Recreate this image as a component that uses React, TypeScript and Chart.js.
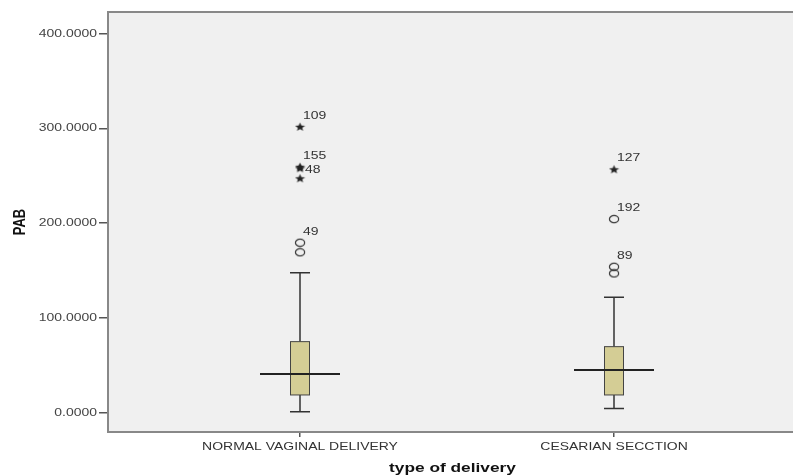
import React, { useEffect, useRef } from "react";
import { Chart, registerables } from "chart.js";
Chart.register(...registerables);

const categories = ["NORMAL VAGINAL DELIVERY", "CESARIAN SECCTION"];
const whiskerLow = [1, 4.5];
const q1 = [18.7, 18.7];
const median = [40.8, 45];
const q3 = [75, 69.7];
const whiskerHigh = [147.8, 121.8];
const extremeValues = [[301.8, 259.6, 258, 247.4], [256.9]];
const extremeLabels = [["109", "155", "48", ""], ["127"]];
const outlierValues = [[179.4, 169.3], [204.4, 154, 147]];
const outlierLabels = [["49", ""], ["192", "89", ""]];
const yTicks = [0, 100, 200, 300, 400];
const xTitle = "type of delivery";
const yTitle = "PAB";

const SX = 1.33; // horizontal stretch of the reference's text
const FONT = "'Liberation Sans', Arial, sans-serif";

function makeStar(): HTMLCanvasElement {
  const c = document.createElement("canvas");
  c.width = 11;
  c.height = 10;
  const ctx = c.getContext("2d")!;
  ctx.fillStyle = "#222";
  ctx.beginPath();
  for (let i = 0; i < 10; i++) {
    const r = i % 2 === 0 ? 4.6 : 2.0;
    const a = -Math.PI / 2 + (i * Math.PI) / 5;
    const x = 5.5 + 1.15 * r * Math.cos(a);
    const y = 5.3 + r * Math.sin(a);
    if (i === 0) ctx.moveTo(x, y);
    else ctx.lineTo(x, y);
  }
  ctx.closePath();
  ctx.fill();
  return c;
}

function makeRing(): HTMLCanvasElement {
  const c = document.createElement("canvas");
  c.width = 12;
  c.height = 10;
  const ctx = c.getContext("2d")!;
  ctx.strokeStyle = "#333";
  ctx.lineWidth = 1.2;
  ctx.beginPath();
  ctx.ellipse(6, 5, 4.6, 3.6, 0, 0, Math.PI * 2);
  ctx.stroke();
  return c;
}

function drawText(
  ctx: CanvasRenderingContext2D,
  text: string,
  x: number,
  y: number,
  align: CanvasTextAlign,
  font: string,
  color: string,
  rotate = false
) {
  ctx.save();
  ctx.translate(x, y);
  if (rotate) {
    ctx.rotate(-Math.PI / 2);
    ctx.scale(1, SX);
  } else {
    ctx.scale(SX, 1);
  }
  ctx.font = font;
  ctx.fillStyle = color;
  ctx.textAlign = align;
  ctx.textBaseline = "middle";
  ctx.fillText(text, 0, 0);
  ctx.restore();
}

export default function App() {
  const ref = useRef<HTMLCanvasElement>(null);
  useEffect(() => {
    document.body.style.margin = "0";
    document.body.style.overflow = "hidden";
    const star = makeStar();
    const ring = makeRing();
    const extremeData: any[] = [];
    const outlierData: any[] = [];
    extremeValues.forEach((arr, i) =>
      arr.forEach((v, j) => extremeData.push({ x: i + 1, y: v, label: extremeLabels[i][j] }))
    );
    outlierValues.forEach((arr, i) =>
      arr.forEach((v, j) => outlierData.push({ x: i + 1, y: v, label: outlierLabels[i][j] }))
    );

    const boxPlugin = {
      id: "boxPlugin",
      beforeDraw(chart: any) {
        const { ctx, chartArea } = chart;
        ctx.save();
        ctx.fillStyle = "#f0f0f0";
        ctx.fillRect(chartArea.left, chartArea.top, chartArea.right - chartArea.left, chartArea.bottom - chartArea.top);
        ctx.restore();
      },
      beforeDatasetsDraw(chart: any) {
        const { ctx, scales } = chart;
        const xs = scales.x;
        const ys = scales.y;
        ctx.save();
        categories.forEach((_, i) => {
          const cx = Math.round(xs.getPixelForValue(i + 1));
          const bw = 20;
          const yLo = ys.getPixelForValue(whiskerLow[i]);
          const yQ1 = ys.getPixelForValue(q1[i]);
          const yMed = ys.getPixelForValue(median[i]);
          const yQ3 = ys.getPixelForValue(q3[i]);
          const yHi = ys.getPixelForValue(whiskerHigh[i]);
          ctx.strokeStyle = "#333";
          ctx.lineWidth = 1.5;
          ctx.beginPath();
          ctx.moveTo(cx, yHi);
          ctx.lineTo(cx, yQ3);
          ctx.moveTo(cx, yQ1);
          ctx.lineTo(cx, yLo);
          ctx.moveTo(cx - bw / 2, yHi);
          ctx.lineTo(cx + bw / 2, yHi);
          ctx.moveTo(cx - bw / 2, yLo);
          ctx.lineTo(cx + bw / 2, yLo);
          ctx.stroke();
          ctx.fillStyle = "#d4cd95";
          ctx.fillRect(cx - bw / 2, yQ3, bw, yQ1 - yQ3);
          ctx.lineWidth = 1;
          ctx.strokeStyle = "#444";
          ctx.strokeRect(cx - bw / 2 + 0.5, yQ3, bw - 1, yQ1 - yQ3);
          ctx.strokeStyle = "#222";
          ctx.lineWidth = 2;
          ctx.beginPath();
          ctx.moveTo(cx - 40, yMed);
          ctx.lineTo(cx + 40, yMed);
          ctx.stroke();
        });
        ctx.restore();
      },
      afterDraw(chart: any) {
        const { ctx, chartArea, scales } = chart;
        ctx.save();
        ctx.strokeStyle = "#888";
        ctx.lineWidth = 2;
        ctx.beginPath();
        ctx.moveTo(chartArea.left, chartArea.top);
        ctx.lineTo(chartArea.right, chartArea.top);
        ctx.stroke();
        ctx.restore();

        yTicks.forEach((v) => {
          const py = scales.y.getPixelForValue(v);
          drawText(ctx, v.toFixed(4), chartArea.left - 11, py, "right", `10.5px ${FONT}`, "#444");
        });
        categories.forEach((c, i) => {
          const px = scales.x.getPixelForValue(i + 1);
          drawText(ctx, c, px, chartArea.bottom + 15, "center", `10.5px ${FONT}`, "#333");
        });
        drawText(
          ctx,
          xTitle,
          (chartArea.left + chartArea.right) / 2 + 2,
          chartArea.bottom + 36,
          "center",
          `bold 13px ${FONT}`,
          "#111"
        );
        drawText(
          ctx,
          yTitle,
          20,
          (chartArea.top + chartArea.bottom) / 2,
          "center",
          `bold 13px ${FONT}`,
          "#111",
          true
        );

        const all = [...extremeData, ...outlierData];
        all.forEach((p) => {
          if (!p.label) return;
          const px = scales.x.getPixelForValue(p.x);
          const py = scales.y.getPixelForValue(p.y);
          const crowded = all.some(
            (q) => q !== p && q.label && q.x === p.x && q.y > p.y && q.y - p.y < 5
          );
          if (crowded) drawText(ctx, p.label, px + 5, py + 2, "left", `10.5px ${FONT}`, "#333");
          else drawText(ctx, p.label, px + 3, py - 11, "left", `10.5px ${FONT}`, "#333");
        });
      },
    };

    const chart = new Chart(ref.current!, {
      type: "scatter",
      data: {
        datasets: [
          { data: extremeData, pointStyle: star as any, pointRadius: 5 },
          { data: outlierData, pointStyle: ring as any, pointRadius: 5 },
        ],
      },
      options: {
        animation: false,
        responsive: false,
        maintainAspectRatio: false,
        devicePixelRatio: 1,
        layout: { autoPadding: false, padding: { top: 12, left: 0, right: 0, bottom: 0 } },
        plugins: { legend: { display: false }, tooltip: { enabled: false } },
        scales: {
          x: {
            type: "linear",
            min: 0.3885,
            max: 2.57,
            afterBuildTicks: (s: any) => {
              s.ticks = [{ value: 1 }, { value: 2 }];
            },
            afterFit: (s: any) => {
              s.height = 44;
              s.paddingLeft = 0;
              s.paddingRight = 0;
            },
            ticks: { display: false },
            grid: { drawOnChartArea: false, tickLength: 5, color: "#555", lineWidth: 1.5 },
            border: { color: "#888", width: 2 },
          },
          y: {
            type: "linear",
            min: -20.4,
            max: 423,
            afterBuildTicks: (s: any) => {
              s.ticks = yTicks.map((v) => ({ value: v }));
            },
            afterFit: (s: any) => {
              s.width = 108;
              s.paddingTop = 0;
              s.paddingBottom = 0;
            },
            ticks: { display: false },
            grid: { drawOnChartArea: false, tickLength: 9, color: "#555", lineWidth: 1.5 },
            border: { color: "#888", width: 2 },
          },
        },
      },
      plugins: [boxPlugin],
    } as any);
    return () => chart.destroy();
  }, []);
  return (
    <div style={{ width: 793, height: 476, position: "relative", background: "#fff", overflow: "hidden" }}>
      <canvas ref={ref} width={793} height={476} style={{ display: "block" }} />
    </div>
  );
}
